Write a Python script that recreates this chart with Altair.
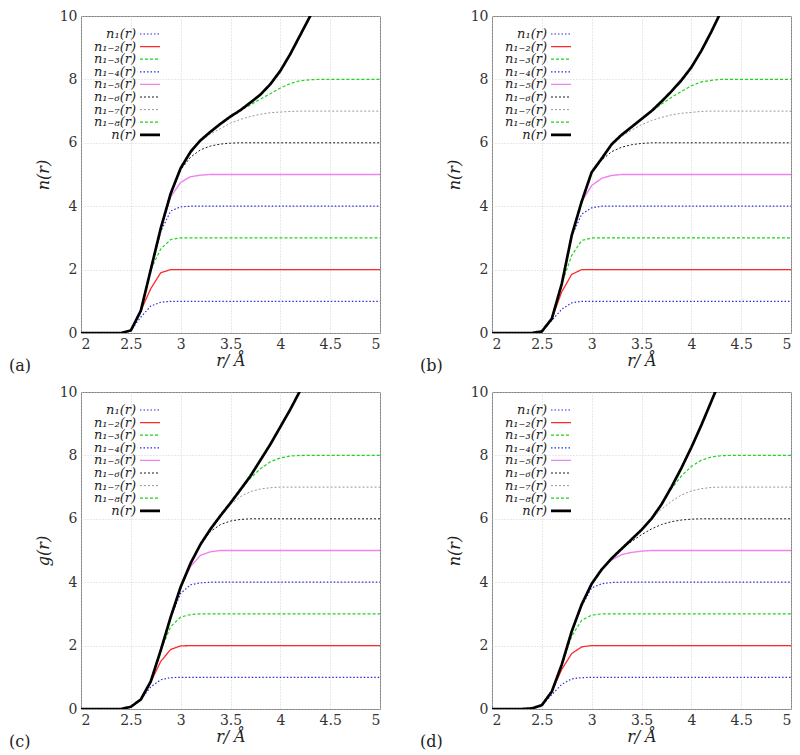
import altair as alt
import pandas as pd

SERIF = "DejaVu Serif"

SERIES = ["n₁(r)", "n₁₋₂(r)", "n₁₋₃(r)", "n₁₋₄(r)", "n₁₋₅(r)",
          "n₁₋₆(r)", "n₁₋₇(r)", "n₁₋₈(r)", "n(r)"]
COLORS = ["#2b2bdf", "#ff2a2a", "#1ed41e", "#2b2bdf", "#ee82ee",
          "#000000", "#8c8c8c", "#1ed41e", "#000000"]
DASHES = [[1.5, 2], [1, 0], [3, 2], [1.5, 2], [1, 0],
          [2, 2], [2, 2], [3, 2], [1, 0]]
WIDTHS = [1.2, 1.3, 1.2, 1.2, 1.4, 0.9, 0.9, 1.2, 2.7]

X_TICKS = [2, 2.5, 3, 3.5, 4, 4.5, 5]
Y_TICKS = [0, 2, 4, 6, 8, 10]
PANEL_TAGS = ["(a)", "(b)", "(c)", "(d)"]
Y_TITLES = ["n(r)", "n(r)", "g(r)", "n(r)"]

# ---- panel (a) ----
A_N1 = [(2.0, 0), (2.4, 0), (2.5, 0.08), (2.6, 0.5), (2.7, 0.85), (2.8, 0.97), (2.9, 1.0), (5.0, 1.0)]
A_N12 = [(2.4, 0), (2.5, 0.08), (2.6, 0.7), (2.7, 1.4), (2.8, 1.9), (2.9, 2.0), (5.0, 2.0)]
A_N13 = [(2.5, 0.08), (2.6, 0.7), (2.7, 2.0), (2.8, 2.65), (2.9, 2.95), (3.0, 3.0), (5.0, 3.0)]
A_N14 = [(2.6, 0.7), (2.7, 2.0), (2.8, 3.2), (2.9, 3.85), (3.0, 3.98), (3.1, 4.0), (5.0, 4.0)]
A_N15 = [(2.7, 2.0), (2.8, 3.3), (2.9, 4.3), (3.0, 4.75), (3.1, 4.93), (3.2, 4.98), (3.3, 5.0), (5.0, 5.0)]
A_N16 = [(2.8, 3.3), (2.9, 4.4), (3.0, 5.15), (3.1, 5.55), (3.2, 5.78), (3.3, 5.9), (3.4, 5.96),
         (3.5, 5.99), (3.6, 6.0), (5.0, 6.0)]
A_N17 = [(3.0, 5.2), (3.1, 5.72), (3.2, 6.05), (3.3, 6.28), (3.4, 6.45), (3.5, 6.62), (3.6, 6.74),
         (3.7, 6.83), (3.8, 6.9), (3.9, 6.95), (4.0, 6.97), (4.1, 6.99), (4.2, 7.0), (5.0, 7.0)]
A_N18 = [(3.3, 6.35), (3.4, 6.6), (3.5, 6.83), (3.6, 7.02), (3.7, 7.2), (3.8, 7.38), (3.9, 7.55),
         (4.0, 7.73), (4.1, 7.87), (4.2, 7.96), (4.3, 7.99), (4.4, 8.0), (5.0, 8.0)]
A_N = [(2.0, 0), (2.4, 0), (2.5, 0.08), (2.6, 0.7), (2.7, 2.0), (2.8, 3.3), (2.9, 4.4), (3.0, 5.2),
       (3.1, 5.72), (3.2, 6.08), (3.3, 6.35), (3.4, 6.6), (3.5, 6.83), (3.6, 7.03), (3.7, 7.27),
       (3.8, 7.52), (3.9, 7.85), (4.0, 8.27), (4.1, 8.8), (4.2, 9.4), (4.3, 10.0), (4.4, 10.7)]

# ---- panel (b) ----
B_N1 = [(2.0, 0), (2.4, 0), (2.5, 0.05), (2.6, 0.4), (2.7, 0.75), (2.8, 0.95), (2.9, 1.0), (5.0, 1.0)]
B_N12 = [(2.5, 0.05), (2.6, 0.45), (2.7, 1.3), (2.8, 1.85), (2.9, 2.0), (5.0, 2.0)]
B_N13 = [(2.6, 0.45), (2.7, 1.55), (2.8, 2.45), (2.9, 2.92), (3.0, 3.0), (5.0, 3.0)]
B_N14 = [(2.7, 1.55), (2.8, 3.05), (2.9, 3.75), (3.0, 3.95), (3.1, 4.0), (5.0, 4.0)]
B_N15 = [(2.8, 3.08), (2.9, 4.15), (3.0, 4.65), (3.1, 4.88), (3.2, 4.97), (3.3, 5.0), (5.0, 5.0)]
B_N16 = [(2.9, 4.15), (3.0, 5.05), (3.1, 5.45), (3.2, 5.72), (3.3, 5.86), (3.4, 5.94), (3.5, 5.98),
         (3.6, 6.0), (5.0, 6.0)]
B_N17 = [(3.0, 5.07), (3.1, 5.5), (3.2, 5.95), (3.3, 6.2), (3.4, 6.4), (3.5, 6.57), (3.6, 6.7),
         (3.7, 6.8), (3.8, 6.88), (3.9, 6.93), (4.0, 6.96), (4.1, 6.99), (4.2, 7.0), (5.0, 7.0)]
B_N18 = [(3.3, 6.25), (3.4, 6.5), (3.5, 6.75), (3.6, 6.98), (3.7, 7.22), (3.8, 7.43), (3.9, 7.62),
         (4.0, 7.8), (4.1, 7.92), (4.2, 7.97), (4.3, 8.0), (5.0, 8.0)]
B_N = [(2.0, 0), (2.4, 0), (2.5, 0.05), (2.6, 0.45), (2.7, 1.55), (2.8, 3.08), (2.9, 4.15), (3.0, 5.07),
       (3.1, 5.5), (3.2, 5.95), (3.3, 6.25), (3.4, 6.5), (3.5, 6.75), (3.6, 7.0), (3.7, 7.3),
       (3.8, 7.62), (3.9, 7.97), (4.0, 8.38), (4.1, 8.9), (4.2, 9.5), (4.3, 10.15), (4.4, 10.8)]

# ---- panel (c) ----
C_N1 = [(2.0, 0), (2.4, 0), (2.5, 0.07), (2.6, 0.3), (2.7, 0.7), (2.8, 0.92), (2.9, 0.99), (3.0, 1.0), (5.0, 1.0)]
C_N12 = [(2.6, 0.3), (2.7, 0.85), (2.8, 1.5), (2.9, 1.88), (3.0, 1.99), (3.1, 2.0), (5.0, 2.0)]
C_N13 = [(2.7, 0.85), (2.8, 1.85), (2.9, 2.6), (3.0, 2.9), (3.1, 2.98), (3.2, 3.0), (5.0, 3.0)]
C_N14 = [(2.8, 1.85), (2.9, 2.9), (3.0, 3.65), (3.1, 3.92), (3.2, 3.98), (3.3, 4.0), (5.0, 4.0)]
C_N15 = [(2.9, 2.9), (3.0, 3.85), (3.1, 4.5), (3.2, 4.85), (3.3, 4.96), (3.4, 5.0), (5.0, 5.0)]
C_N16 = [(3.1, 4.6), (3.2, 5.2), (3.3, 5.6), (3.4, 5.82), (3.5, 5.93), (3.6, 5.98), (3.7, 6.0), (5.0, 6.0)]
C_N17 = [(3.3, 5.68), (3.4, 6.1), (3.5, 6.45), (3.6, 6.7), (3.7, 6.86), (3.8, 6.94), (3.9, 6.98),
         (4.0, 7.0), (5.0, 7.0)]
C_N18 = [(3.5, 6.5), (3.6, 6.92), (3.7, 7.28), (3.8, 7.58), (3.9, 7.8), (4.0, 7.92), (4.1, 7.98),
         (4.2, 8.0), (5.0, 8.0)]
C_N = [(2.0, 0), (2.4, 0), (2.5, 0.07), (2.6, 0.3), (2.7, 0.87), (2.8, 1.85), (2.9, 2.9), (3.0, 3.85),
       (3.1, 4.6), (3.2, 5.2), (3.3, 5.68), (3.4, 6.1), (3.5, 6.5), (3.6, 6.92), (3.7, 7.35),
       (3.8, 7.85), (3.9, 8.35), (4.0, 8.9), (4.1, 9.45), (4.2, 10.05), (4.3, 10.6)]

# ---- panel (d) ----
D_N1 = [(2.0, 0), (2.3, 0), (2.4, 0.02), (2.5, 0.12), (2.6, 0.45), (2.7, 0.78), (2.8, 0.95), (2.9, 0.99),
        (3.0, 1.0), (5.0, 1.0)]
D_N12 = [(2.5, 0.12), (2.6, 0.55), (2.7, 1.25), (2.8, 1.75), (2.9, 1.96), (3.0, 2.0), (5.0, 2.0)]
D_N13 = [(2.6, 0.55), (2.7, 1.4), (2.8, 2.3), (2.9, 2.8), (3.0, 2.96), (3.1, 3.0), (5.0, 3.0)]
D_N14 = [(2.7, 1.4), (2.8, 2.45), (2.9, 3.25), (3.0, 3.82), (3.1, 3.95), (3.2, 3.99), (3.3, 4.0), (5.0, 4.0)]
D_N15 = [(2.9, 3.3), (3.0, 3.95), (3.1, 4.4), (3.2, 4.7), (3.3, 4.87), (3.4, 4.94), (3.5, 4.98),
         (3.6, 5.0), (5.0, 5.0)]
D_N16 = [(3.2, 4.75), (3.3, 5.05), (3.4, 5.28), (3.5, 5.5), (3.6, 5.68), (3.7, 5.82), (3.8, 5.91),
         (3.9, 5.96), (4.0, 5.99), (4.1, 6.0), (5.0, 6.0)]
D_N17 = [(3.4, 5.35), (3.5, 5.65), (3.6, 6.0), (3.7, 6.3), (3.8, 6.55), (3.9, 6.75), (4.0, 6.88),
         (4.1, 6.95), (4.2, 6.99), (4.3, 7.0), (5.0, 7.0)]
D_N18 = [(3.6, 6.0), (3.7, 6.45), (3.8, 6.95), (3.9, 7.35), (4.0, 7.65), (4.1, 7.85), (4.2, 7.95),
         (4.3, 7.99), (4.4, 8.0), (5.0, 8.0)]
D_N = [(2.0, 0), (2.3, 0), (2.4, 0.02), (2.5, 0.12), (2.6, 0.55), (2.7, 1.4), (2.8, 2.45), (2.9, 3.3),
       (3.0, 3.95), (3.1, 4.4), (3.2, 4.75), (3.3, 5.05), (3.4, 5.35), (3.5, 5.65), (3.6, 6.0),
       (3.7, 6.45), (3.8, 7.0), (3.9, 7.6), (4.0, 8.25), (4.1, 8.95), (4.2, 9.7), (4.3, 10.45)]

PANELS = [
    [A_N1, A_N12, A_N13, A_N14, A_N15, A_N16, A_N17, A_N18, A_N],
    [B_N1, B_N12, B_N13, B_N14, B_N15, B_N16, B_N17, B_N18, B_N],
    [C_N1, C_N12, C_N13, C_N14, C_N15, C_N16, C_N17, C_N18, C_N],
    [D_N1, D_N12, D_N13, D_N14, D_N15, D_N16, D_N17, D_N18, D_N],
]

W, H = 299, 317


def make_panel(series_lists, ytitle, tag):
    rows = []
    for name, w, pts in zip(SERIES, WIDTHS, series_lists):
        for r, n in pts:
            rows.append({"r": r, "n": n, "s": name, "w": w})
    df = pd.DataFrame(rows)

    x = alt.X("r:Q", scale=alt.Scale(domain=[2, 5], nice=False, zero=False),
              axis=alt.Axis(values=X_TICKS, format="~g", title="r/ Å", titlePadding=1))
    y = alt.Y("n:Q", scale=alt.Scale(domain=[0, 10], nice=False),
              axis=alt.Axis(values=Y_TICKS, format="d", title=ytitle, titlePadding=8))
    color = alt.Color("s:N", scale=alt.Scale(domain=SERIES, range=COLORS), legend=None)
    dash = alt.StrokeDash("s:N", scale=alt.Scale(domain=SERIES, range=DASHES), legend=None)
    sw = alt.StrokeWidth("w:Q", scale=None, legend=None)

    base = alt.Chart(df)
    comps = base.transform_filter(alt.datum.s != "n(r)").mark_line(clip=True).encode(
        x=x, y=y, color=color, strokeDash=dash, strokeWidth=sw)
    total = base.transform_filter(alt.datum.s == "n(r)").mark_line(clip=True).encode(
        x=x, y=y, color=color, strokeDash=dash, strokeWidth=sw)

    leg_df = pd.DataFrame({"s": SERIES, "w": WIDTHS, "row": list(range(len(SERIES)))})
    leg = alt.Chart(leg_df).transform_calculate(ly="18 + 12.6 * datum.row")
    ly = alt.Y("ly:Q", scale=None, axis=None)
    leg_rule = leg.mark_rule().encode(
        x=alt.value(59), x2=alt.value(79), y=ly, color=color, strokeDash=dash, strokeWidth=sw)
    leg_text = leg.mark_text(align="right", baseline="middle", font=SERIF, fontStyle="italic",
                             fontSize=13, color="#222222").encode(
        x=alt.value(55), y=ly, text="s:N")

    tag_layer = alt.Chart(pd.DataFrame({"t": [tag]})).mark_text(
        align="left", baseline="middle", font=SERIF, fontSize=16, color="#222222").encode(
        x=alt.value(-72), y=alt.value(H + 33), text="t:N")

    return alt.layer(comps, total, leg_rule, leg_text, tag_layer).properties(width=W, height=H)


p = [make_panel(PANELS[i], Y_TITLES[i], PANEL_TAGS[i]) for i in range(4)]

chart = alt.vconcat(
    alt.hconcat(p[0], p[1], spacing=38),
    alt.hconcat(p[2], p[3], spacing=38),
    spacing=9,
).properties(
    padding=0
).configure_view(
    stroke="#808080", strokeWidth=1
).configure_axis(
    labelFont=SERIF, labelFontSize=14, labelColor="#333333", labelPadding=4,
    titleFont=SERIF, titleFontSize=16, titleFontWeight="normal", titleFontStyle="italic",
    titleColor="#222222", grid=True, gridColor="#c8c8c8", gridDash=[1, 2], gridWidth=0.8,
    ticks=False, domain=False
)

chart.save("out.html", embed_options={"renderer": "svg", "actions": False})
